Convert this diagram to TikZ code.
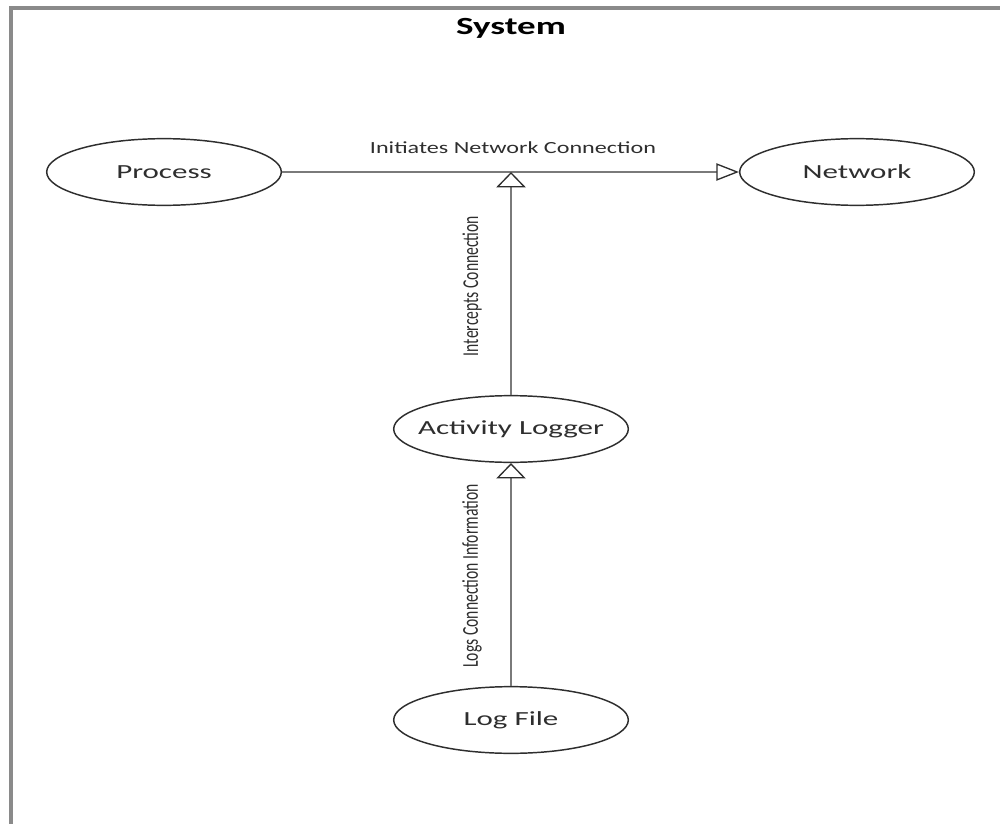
\documentclass[tikz,border=0pt]{standalone}
\usepackage{fontspec}
\setmainfont{Carlito}
\newfontfamily\nodefont{Carlito}[FakeStretch=1.55]
\newfontfamily\titlefont{Carlito}[FakeStretch=1.5]
\newfontfamily\hlabelfont{Carlito}[FakeStretch=1.42]
\newfontfamily\vlabelfont{Carlito}[FakeStretch=0.69]
\usetikzlibrary{shapes.geometric,arrows.meta}
\definecolor{inkgray}{HTML}{2E2E2E}
\definecolor{linegray}{HTML}{7A7A7A}
\definecolor{framegray}{HTML}{8A8A8A}
\tikzset{
  usecase/.style={ellipse, draw=inkgray, line width=1.1pt, fill=white,
    minimum width=176pt, minimum height=50pt, inner xsep=-60pt, inner ysep=0pt,
    text=inkgray, font=\nodefont\fontsize{15pt}{18pt}\selectfont},
  flow/.style={draw=linegray, line width=1.6pt},
  hhead/.style={-{Triangle[open, length=17pt, width=13pt, line width=1pt, color=inkgray, fill=white]}},
  vhead/.style={-{Triangle[open, length=11.5pt, width=22pt, line width=1pt, color=inkgray, fill=white]}},
  hlabel/.style={text=inkgray, font=\hlabelfont\fontsize{12.75pt}{15pt}\selectfont, inner sep=0pt},
  vlabel/.style={text=inkgray, font=\vlabelfont\fontsize{17pt}{20pt}\selectfont, inner sep=0pt, rotate=90},
  titletext/.style={text=black, font=\titlefont\bfseries\fontsize{18.5pt}{22pt}\selectfont, inner sep=0pt}
}
\begin{document}
\begin{tikzpicture}[x=0.75pt, y=-0.75pt]
  \useasboundingbox (0,0) rectangle (1000,824);
  % system boundary
  \draw[framegray, line width=2.6pt] (11,824) -- (11,8) -- (1000,8);
  \node[titletext, anchor=base] (title) at (511,35) {System};

  % actors and components
  \node[usecase] (proc) at (164,172) {Process};
  \node[usecase] (net)  at (857,172) {Network};
  \node[usecase] (logger) at (511,429) {Activity Logger};
  \node[usecase] (logfile) at (511,720) {Log File};

  % connectors
  \coordinate (hit) at (logger.north |- proc.east);
  \draw[flow, hhead] (proc.east) -- (net.west);
  \draw[flow, vhead] (logger.north) -- (hit);
  \draw[flow, vhead] (logfile.north) -- (logger.south);

  % connector labels
  \node[hlabel, anchor=base] (lblinit) at (513,153) {Initiates Network Connection};
  \node[vlabel] (lblint) at (472,286) {Intercepts Connection};
  \node[vlabel] (lbllog) at (472,576) {Logs Connection Information};
\end{tikzpicture}
\end{document}
